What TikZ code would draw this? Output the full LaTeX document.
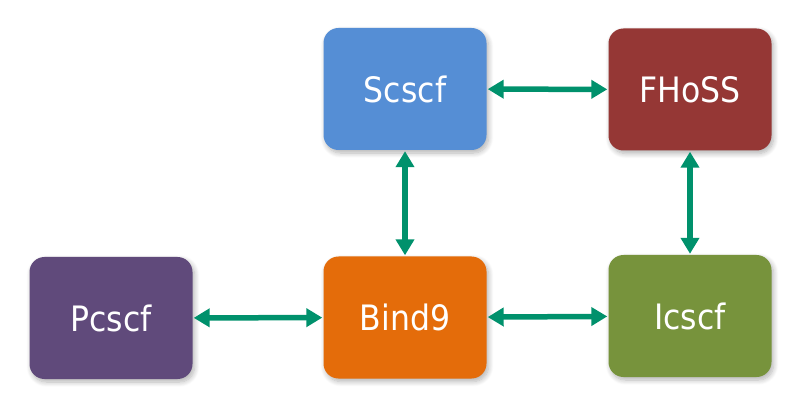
\documentclass[tikz,border=0pt]{standalone}
\usepackage{fontspec}
\setmainfont{DejaVu Sans Condensed}
\usetikzlibrary{arrows.meta,shadows.blur}
\definecolor{cblue}{HTML}{558ED5}
\definecolor{cred}{HTML}{953735}
\definecolor{cpurple}{HTML}{604A7B}
\definecolor{corange}{HTML}{E46C0A}
\definecolor{cgreen}{HTML}{77933C}
\definecolor{carrow}{HTML}{00916C}
\tikzset{
  box/.style={rounded corners=15pt, minimum width=163pt, minimum height=122pt,
    inner sep=0pt, text=white, font=\fontsize{35}{40}\selectfont,
    blur shadow={shadow xshift=2pt, shadow yshift=-3pt, shadow blur steps=8, shadow blur radius=5pt, shadow opacity=30}},
  link/.style={carrow, line width=5.5pt, {Triangle[length=16pt,width=18pt]}-{Triangle[length=16pt,width=18pt]}, shorten <=1pt, shorten >=1pt}
}
\begin{document}
\begin{tikzpicture}[x=1pt,y=-1pt]
\useasboundingbox (0,0) rectangle (806,414);
\node[box, fill=cblue] (scscf) at (405,89) {Scscf};
\node[box, fill=cred] (fhoss) at (690,89.5) {FHoSS};
\node[box, fill=cpurple] (pcscf) at (111,318) {Pcscf};
\node[box, fill=corange] (bind) at (405,317.5) {Bind9};
\node[box, fill=cgreen] (icscf) at (690,316) {Icscf};
\draw[link] (scscf) -- (fhoss);
\draw[link] (scscf) -- (bind);
\draw[link] (fhoss) -- (icscf);
\draw[link] (pcscf) -- (bind);
\draw[link] (bind) -- (icscf);
\end{tikzpicture}
\end{document}
